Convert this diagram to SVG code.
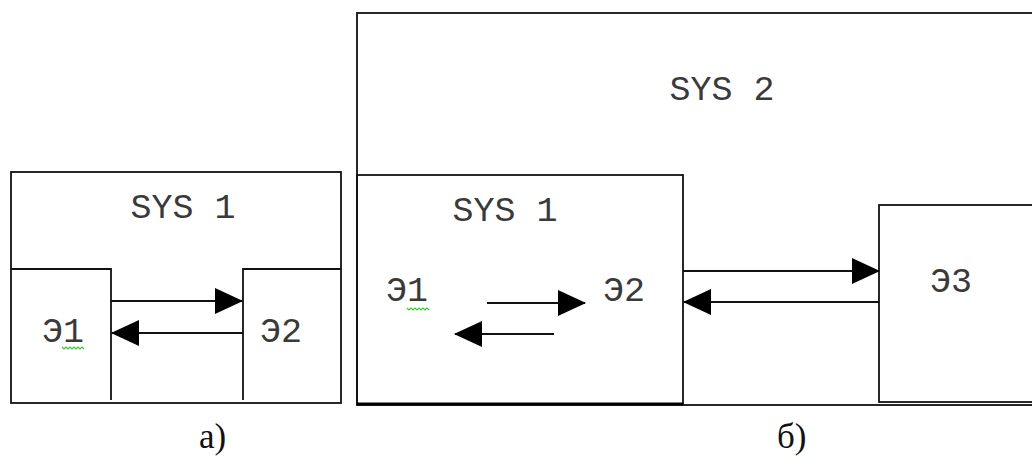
<svg xmlns="http://www.w3.org/2000/svg" width="1032" height="457" viewBox="0 0 1032 457">
<style>
.box{fill:none;stroke:#111;stroke-width:1.8}
.lbl{font-family:"Liberation Mono","DejaVu Sans Mono",monospace;font-size:35px;fill:#3a3a3a}
.cap{font-family:"Liberation Serif","Times New Roman",serif;font-size:35px;fill:#111}
.ln{stroke:#111;stroke-width:1.8;fill:none}
.sq{stroke:#3c3;stroke-width:1.2;fill:none}
</style>
<defs>
<marker id="ah" markerUnits="userSpaceOnUse" markerWidth="28" markerHeight="26" refX="27" refY="13" orient="auto">
<path d="M0,0 L28,13 L0,26 z" fill="#000"/>
</marker>
</defs>
<rect width="1032" height="457" fill="#fff"/>
<g id="sysA">
<rect class="box" x="11" y="172" width="330" height="231"/>
<text class="lbl" x="183" y="218" text-anchor="middle">SYS 1</text>
</g>
<g id="a-e1">
<path class="box" d="M11,269 H111 V400"/>
<text class="lbl" x="42" y="342">Э1</text>
<path class="sq" d="M62,347 l2,2 l2,-2 l2,2 l2,-2 l2,2 l2,-2 l2,2 l2,-2 l2,2 l2,-2 l2,2"/>
</g>
<g id="a-e2">
<path class="box" d="M341,269 H243 V400"/>
<text class="lbl" x="260" y="342">Э2</text>
</g>
<g id="sys2">
<rect class="box" x="357" y="13" width="700" height="392"/>
<text class="lbl" x="722" y="100" text-anchor="middle">SYS 2</text>
</g>
<g id="b-sys1">
<rect class="box" x="357" y="175" width="326" height="229"/>
<path d="M357,404 H683" stroke="#000" stroke-width="3"/>
<text class="lbl" x="505" y="221" text-anchor="middle">SYS 1</text>
</g>
<g id="b-e1">
<text class="lbl" x="386" y="301">Э1</text>
<path class="sq" d="M407,308 l2,2 l2,-2 l2,2 l2,-2 l2,2 l2,-2 l2,2 l2,-2 l2,2 l2,-2 l2,2"/>
</g>
<g id="b-e2">
<text class="lbl" x="603" y="301">Э2</text>
</g>
<g id="b-e3">
<rect class="box" x="879" y="205" width="170" height="197"/>
<text class="lbl" x="930" y="292">Э3</text>
</g>
<g id="connectors">
<line class="ln" x1="111" y1="301" x2="242" y2="301" marker-end="url(#ah)"/>
<line class="ln" x1="243" y1="333" x2="112" y2="333" marker-end="url(#ah)"/>
<line class="ln" x1="487" y1="303" x2="585" y2="303" marker-end="url(#ah)"/>
<line class="ln" x1="554" y1="334" x2="455" y2="334" marker-end="url(#ah)"/>
<line class="ln" x1="683" y1="271" x2="879" y2="271" marker-end="url(#ah)"/>
<line class="ln" x1="879" y1="302" x2="684" y2="302" marker-end="url(#ah)"/>
</g>
<text class="cap" x="199" y="448">а)</text>
<text class="cap" x="777" y="448">б)</text>
</svg>
